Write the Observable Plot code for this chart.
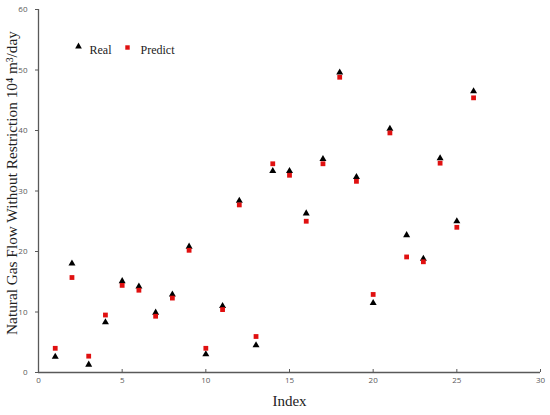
<!DOCTYPE html>
<html>
<head>
<meta charset="utf-8">
<script src="https://cdn.jsdelivr.net/npm/d3@7"></script>
<script src="https://cdn.jsdelivr.net/npm/@observablehq/plot@0.6"></script>
<style>
  html, body { margin: 0; padding: 0; background: #fff; }
  #chart { width: 550px; height: 415px; }
</style>
</head>
<body>
<div id="chart"></div>
<script>
const indexes = [1,2,3,4,5,6,7,8,9,10,11,12,13,14,15,16,17,18,19,20,21,22,23,24,25,26];
const realValues = [2.6,18.0,1.3,8.3,15.1,14.2,9.9,12.9,20.8,3.0,11.0,28.4,4.5,33.3,33.3,26.3,35.3,49.6,32.3,11.5,40.3,22.7,18.8,35.4,25.0,46.5];
const predictValues = [4.0,15.7,2.7,9.5,14.4,13.6,9.3,12.3,20.2,4.0,10.4,27.7,5.95,34.5,32.6,25.0,34.5,48.8,31.6,12.9,39.6,19.1,18.3,34.6,24.0,45.4];
const xTicks = [0,5,10,15,20,25,30];
const yTicks = [0,10,20,30,40,50,60];
const seriesNames = ["Real","Predict"];
const xLabel = "Index";
const yLabel = "Natural Gas Flow Without Restriction 10\u2074 m\u00b3/day";

const real = indexes.map((i, k) => ({i, v: realValues[k]}));
const pred = indexes.map((i, k) => ({i, v: predictValues[k]}));

const axisColor = "#595959";
const sans = "'Open Sans', 'DejaVu Sans', sans-serif";
const serif = "'Liberation Serif', 'Times New Roman', serif";

const chart = Plot.plot({
  width: 550,
  height: 415,
  marginLeft: 38,
  marginRight: 10,
  marginTop: 9,
  marginBottom: 43,
  style: {background: "#fff", overflow: "visible"},
  x: {domain: [0, 30]},
  y: {domain: [0, 60]},
  marks: [
    Plot.axisX({ticks: xTicks, tickSize: -3, tickPadding: 8, label: null, fontSize: 8, fontFamily: sans, color: axisColor}),
    Plot.axisY({ticks: yTicks, tickSize: 3, tickPadding: 8, label: null, fontSize: 8, fontFamily: sans, color: axisColor}),
    Plot.ruleY([0], {stroke: axisColor, strokeWidth: 1.3}),
    Plot.ruleX([0], {stroke: axisColor, strokeWidth: 1.3}),
    Plot.dot(real, {x: "i", y: "v", symbol: "triangle", r: 2.6, fill: "black", stroke: "none"}),
    Plot.dot(pred, {x: "i", y: "v", symbol: "square", r: 2.7, fill: "#e01010", stroke: "none"}),
    Plot.text([xLabel], {frameAnchor: "bottom", dy: 33, text: d => d, textAnchor: "middle", fontFamily: serif, fontSize: 15, fill: "#222"}),
    Plot.text([yLabel], {frameAnchor: "left", dx: -26, dy: -8, rotate: -90, text: d => d, textAnchor: "middle", fontFamily: serif, fontSize: 15.3, fill: "#222"}),
    Plot.dot([seriesNames[0]], {frameAnchor: "top-left", dx: 40, dy: 37, symbol: "triangle", r: 2.5, fill: "black"}),
    Plot.text([seriesNames[0]], {frameAnchor: "top-left", dx: 51, dy: 36, text: d => d, textAnchor: "start", fontFamily: serif, fontSize: 12, fill: "#222"}),
    Plot.dot([seriesNames[1]], {frameAnchor: "top-left", dx: 89, dy: 38, symbol: "square", r: 2.5, fill: "#e01010"}),
    Plot.text([seriesNames[1]], {frameAnchor: "top-left", dx: 102, dy: 36, text: d => d, textAnchor: "start", fontFamily: serif, fontSize: 12, fill: "#222"})
  ]
});
document.getElementById("chart").appendChild(chart);
</script>
</body>
</html>
